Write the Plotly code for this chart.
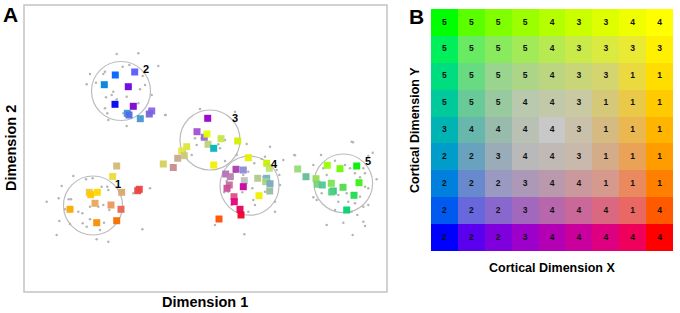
import numpy as np
import plotly.graph_objects as go

# ---------------- Panel A data (Dimension 1 / Dimension 2) ----------------
sq_x = [116.7, 112.7, 163.3, 177.7, 173.3, 89.3, 90.7, 97.3, 121.7, 137.7, 139.3, 95, 111, 121, 70, 96.7, 116.7,
        115.3, 134.7, 104.3, 128.3, 115, 133.3, 127.3, 129, 140.3, 151.7, 149.3,
        207.7, 197, 204.3, 207, 221, 237.7, 208, 213.7, 186.7, 181.7, 184.3, 213.7,
        248.3, 266.7, 269.3, 236, 243.3, 225.7, 230.3, 244.3, 257.7, 266.7, 265.7, 270, 229.3, 227, 243.3, 269.7,
        259, 234, 234.3, 240, 241, 219,
        297.7, 306, 316, 317.3, 322.3, 327.3, 340, 356.7, 331.3, 343, 359, 333.3, 331.7, 354, 346.7]
sq_y = [134, 123.5, 136, 141.7, 132.5, 107.7, 105.3, 107.7, 107.7, 109.3, 110.7, 96.7, 95, 90.7, 90.7, 77.3, 79.3,
        225, 228, 215.3, 213.3, 195.7, 193.7, 186.7, 185, 181.3, 189, 186,
        181.7, 168.3, 162.7, 166, 161.3, 159, 155.7, 151.7, 153.3, 149, 144.3, 135,
        142.3, 136.7, 131.7, 130.7, 130, 126, 123.3, 119.3, 121.7, 121.7, 118.3, 116.3, 115, 111.7, 113.3, 109,
        104.3, 103.3, 98.3, 90.7, 85, 81,
        131, 123.3, 121.3, 115.7, 115, 134.7, 131.3, 134, 116.7, 112.7, 117.3, 109, 108, 104.7, 90]
sq_colors = ["rgb(210,185,120)", "rgb(235,220,60)", "rgb(210,210,90)", "rgb(200,170,140)", "rgb(200,140,140)",
             "rgb(240,200,70)", "rgb(255,200,0)", "rgb(255,215,0)", "rgb(215,170,110)", "rgb(235,70,70)",
             "rgb(235,70,70)", "rgb(230,170,90)", "rgb(235,150,90)", "rgb(230,100,80)", "rgb(250,170,0)",
             "rgb(250,140,0)", "rgb(245,110,0)",
             "rgb(0,100,255)", "rgb(90,90,255)", "rgb(0,130,220)", "rgb(110,0,230)", "rgb(0,0,240)",
             "rgb(130,0,210)", "rgb(60,150,220)", "rgb(80,110,230)", "rgb(70,150,210)", "rgb(140,100,230)",
             "rgb(120,100,220)",
             "rgb(150,0,200)", "rgb(160,80,210)", "rgb(150,110,210)", "rgb(230,255,0)", "rgb(200,230,70)",
             "rgb(210,240,0)", "rgb(190,210,120)", "rgb(0,180,190)", "rgb(220,230,60)", "rgb(230,230,60)",
             "rgb(200,200,130)", "rgb(240,240,0)",
             "rgb(230,240,0)", "rgb(200,240,0)", "rgb(190,230,100)", "rgb(170,60,180)", "rgb(140,140,210)",
             "rgb(180,110,190)", "rgb(180,130,170)", "rgb(190,190,190)", "rgb(180,200,140)", "rgb(110,180,200)",
             "rgb(170,210,130)", "rgb(120,170,190)", "rgb(200,110,160)", "rgb(200,80,150)", "rgb(200,0,160)",
             "rgb(150,190,160)", "rgb(240,240,0)", "rgb(220,80,130)", "rgb(230,0,130)", "rgb(230,0,90)",
             "rgb(240,0,40)", "rgb(255,80,0)",
             "rgb(150,220,120)", "rgb(100,190,150)", "rgb(150,220,90)", "rgb(120,210,120)", "rgb(80,200,150)",
             "rgb(150,255,0)", "rgb(110,250,0)", "rgb(0,240,0)", "rgb(120,230,80)", "rgb(80,220,80)",
             "rgb(60,240,20)", "rgb(50,190,150)", "rgb(80,210,120)", "rgb(30,220,80)", "rgb(0,210,110)"]

dot_x = [73.3, 86, 92.7, 101.7, 107.3, 61.7, 58.7, 68.7, 71, 65, 78.3, 82.3, 103.3, 98.3, 109.3, 90, 59.3, 82.7,
         70, 100, 108.3, 96.7, 56.7, 86.7, 104, 90, 150, 142.3, 133.3, 108.3, 46.7,
         116.7, 138.3, 158.3, 90, 86.7, 96, 105, 103.3, 122.7, 129.3, 142.7, 130.7, 140, 145, 113.3, 106, 111.7,
         116.7, 126.7, 105, 107.3, 108.3, 130, 126.7, 123.3, 165.7, 151.7, 138.3,
         200, 235, 165, 195, 201.7, 196.7, 218.3, 225, 185, 191.7, 220, 236.7, 225, 261.7, 270, 265, 254.3, 248.3,
         235, 243.3, 226.7, 228.3, 242.3, 252.3, 258.3, 265, 253.3, 255, 275, 275, 268.3, 280, 279.3, 248.3, 215,
         224.3, 231.7, 283.3, 246.7, 295, 353, 244.3, 276.7, 263.3,
         294.3, 321, 351.7, 368.3, 372.7, 313.3, 323.3, 335, 345, 350, 363.3, 355, 360, 376.7, 365, 368.3, 313.3,
         316.7, 321.7, 338.3, 346.7, 360, 338.3, 348.3, 355, 363.3, 368.3, 335, 351.7, 357.3, 326.7, 343.3, 363.3,
         365, 352.7, 365, 320, 326.7]
dot_y = [124, 120.7, 121.7, 113.3, 113.3, 114, 101.7, 100.7, 100.7, 90.7, 88.3, 86.7, 95, 93.3, 90, 80.7, 79, 76.7,
         76, 70, 58.3, 60.7, 65, 73.3, 77.3, 93.3, 111.7, 70.7, 106.7, 110, 98.3,
         246, 246.7, 234, 226, 215.7, 217.3, 228.3, 226, 233.3, 235, 224, 213.3, 210.7, 215, 208.3, 202.7, 205,
         200.7, 203.3, 191.7, 186.7, 180, 183.3, 174, 186.7, 185, 205, 196.7,
         191, 188.3, 185, 161.7, 161.7, 155, 155.7, 160, 148.3, 145, 151.7, 145, 139, 141, 153.3, 143.3, 136.7,
         128.3, 128.3, 125, 119, 108.3, 107.7, 111.7, 123.3, 108.3, 100, 95, 98.3, 88.3, 135, 115, 125, 88.3, 75,
         107.7, 95, 140, 156, 144.7, 157.7, 65.7, 130, 123.3,
         145, 145, 158.3, 144, 147.3, 135, 131.7, 139.3, 135, 131.7, 131.7, 126.7, 122.7, 120.7, 113.3, 111.7,
         102.7, 100, 106.7, 105, 106.7, 103.3, 98.3, 98.3, 96.7, 93.3, 95, 90, 88.3, 85, 75, 77.3, 78.3, 74, 65,
         126.7, 113.3, 125]

cluster_labels = ["1", "2", "3", "4", "5"]
cluster_cx = [93, 121, 210, 249.5, 343.3]
cluster_cy = [94.5, 209, 160, 114.3, 116.7]
cluster_r = [29.5, 29.5, 30, 29.5, 29.3]

# ---------------- Panel B data (cortical grid, top row first) ----------------
cortical_cols = list(range(9))
cortical_rows = list(range(9))
cluster_grid = [
    [5, 5, 5, 5, 4, 3, 3, 4, 4],
    [5, 5, 5, 5, 4, 3, 3, 3, 3],
    [5, 5, 5, 5, 4, 3, 3, 1, 1],
    [5, 5, 5, 4, 4, 3, 1, 1, 1],
    [3, 4, 4, 4, 4, 3, 1, 1, 1],
    [2, 2, 3, 4, 4, 3, 1, 1, 1],
    [2, 2, 2, 3, 4, 4, 1, 1, 1],
    [2, 2, 2, 3, 4, 4, 4, 1, 4],
    [2, 2, 2, 3, 4, 4, 4, 4, 4],
]


def cortical_rgb(c, r):
    # 2-D colour key: blue (bottom-left), red (bottom-right), green (top-left), yellow (top-right), grey centre
    x = c / 8.0
    y = 1 - r / 8.0
    base = np.array([np.sqrt(x), np.sqrt(y), np.sqrt((1 - x) * (1 - y))]) * 255
    d = max(abs(2 * x - 1), abs(2 * y - 1))
    w = (1 - d) ** 1.5
    col = base * (1 - w) + np.array([200, 200, 200]) * w
    return "rgb(%d,%d,%d)" % tuple(np.clip(np.round(col), 0, 255))


n_cells = len(cortical_rows) * len(cortical_cols)
cell_index = [[r * len(cortical_cols) + c for c in cortical_cols] for r in cortical_rows]
cell_colors = [cortical_rgb(c, r) for r in cortical_rows for c in cortical_cols]
colorscale = []
for k, col in enumerate(cell_colors):
    lo = max(0.0, (k - 0.5) / (n_cells - 1))
    hi = min(1.0, (k + 0.5) / (n_cells - 1))
    colorscale.append([lo, col])
    colorscale.append([hi, col])

fig = go.Figure()

# gray dots
fig.add_trace(go.Scatter(x=dot_x, y=dot_y, mode="markers",
                         marker=dict(size=2.5, color="#b5b5b5"), hoverinfo="skip",
                         xaxis="x", yaxis="y", showlegend=False))
# coloured squares
fig.add_trace(go.Scatter(x=sq_x, y=sq_y, mode="markers",
                         marker=dict(symbol="square", size=7, color=sq_colors, opacity=0.95, line=dict(width=0)),
                         xaxis="x", yaxis="y", showlegend=False))

# panel B heatmap
fig.add_trace(go.Heatmap(z=cell_index, x=cortical_cols, y=cortical_rows, zmin=0, zmax=n_cells - 1,
                         colorscale=colorscale, showscale=False, xgap=0, ygap=0, hoverinfo="skip",
                         xaxis="x2", yaxis="y2"))
tx, ty, tt = [], [], []
for r in cortical_rows:
    for c in cortical_cols:
        tx.append(c)
        ty.append(r)
        tt.append("<b>%d</b>" % cluster_grid[r][c])
fig.add_trace(go.Scatter(x=tx, y=ty, mode="text", text=tt,
                         textfont=dict(size=8.5, color="#111111", family="Liberation Sans"),
                         xaxis="x2", yaxis="y2", showlegend=False, hoverinfo="skip"))

shapes = []
for cx, cy, rr in zip(cluster_cx, cluster_cy, cluster_r):
    shapes.append(dict(type="circle", xref="x", yref="y", x0=cx - rr, x1=cx + rr, y0=cy - rr, y1=cy + rr,
                       line=dict(color="#bcbcbc", width=1.2), layer="below"))
# panel A frame
shapes.append(dict(type="rect", xref="x domain", yref="y domain", x0=0, x1=1, y0=0, y1=1,
                   line=dict(color="#c4c4c4", width=1.5)))

annotations = []
for lab, cx, cy in zip(cluster_labels, cluster_cx, cluster_cy):
    annotations.append(dict(x=cx + 24.5, y=cy + 22, xref="x", yref="y", text="<b>%s</b>" % lab,
                            xanchor="center", yanchor="middle",
                            showarrow=False, font=dict(size=11, color="black")))

F = "Liberation Sans"


def label(px, py, text, size, angle=0):
    return dict(x=px / 680, y=1 - py / 313, xref="paper", yref="paper", text="<b>%s</b>" % text,
                xanchor="center", yanchor="middle", showarrow=False, textangle=angle,
                font=dict(size=size, color="black", family=F))


annotations += [
    label(10, 15, "A", 21),
    label(416, 16.5, "B", 21),
    label(205, 302, "Dimension 1", 14.5),
    label(11, 148, "Dimension 2", 14.5, -90),
    label(551.7, 267.7, "Cortical Dimension X", 12.5),
    label(415, 130, "Cortical Dimension Y", 12.5, -90),
]

fig.update_layout(
    width=680, height=313, margin=dict(l=0, r=0, t=0, b=0),
    paper_bgcolor="white", plot_bgcolor="white",
    font=dict(family=F, color="black"),
    xaxis=dict(domain=[24 / 680, 387 / 680], range=[24, 387], visible=False, fixedrange=True),
    yaxis=dict(domain=[21 / 313, 308 / 313], range=[8, 295], visible=False, fixedrange=True),
    xaxis2=dict(domain=[431 / 680, 673 / 680], range=[-0.5, 8.5], visible=False, anchor="y2", fixedrange=True),
    yaxis2=dict(domain=[62 / 313, 304 / 313], range=[8.5, -0.5], visible=False, anchor="x2", fixedrange=True),
    shapes=shapes, annotations=annotations,
)

fig.write_html("out.html", config={"displayModeBar": False},
               post_script="document.body.style.margin='0px';document.body.style.overflow='hidden';")
